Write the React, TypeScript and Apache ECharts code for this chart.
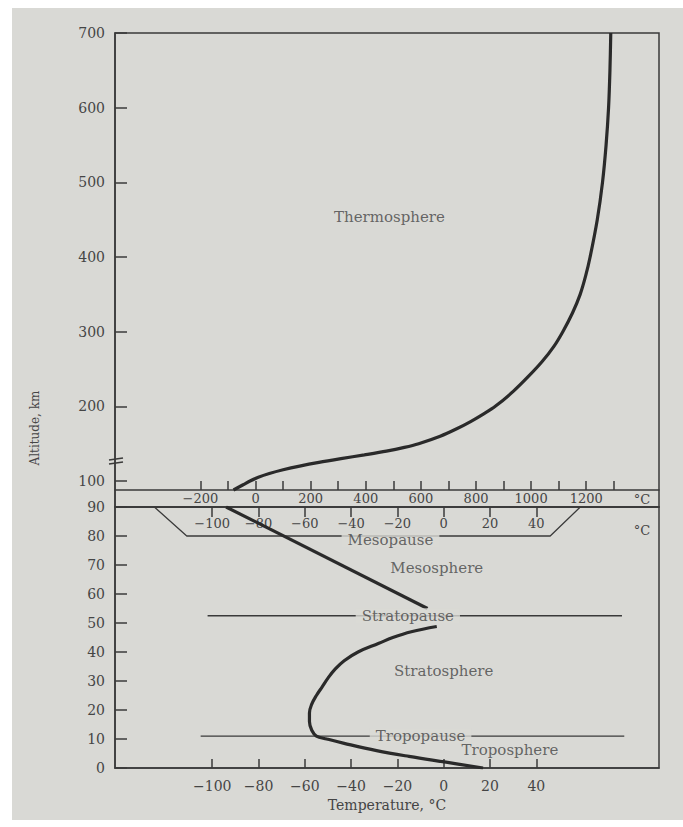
import { useEffect, useRef } from 'react';
import * as echarts from 'echarts';

// Thermosphere profile (upper temperature scale)
const upperAltitudeKm = [88, 95, 100, 105, 110, 115, 120, 125, 130, 135, 140, 145, 150, 160, 170, 180, 190, 200, 220, 240, 260, 280, 300, 325, 350, 375, 400, 450, 500, 550, 600, 650, 700];
const upperTempC = [-80, -45, -20, 10, 50, 100, 160, 230, 310, 395, 475, 540, 592, 670, 730, 782, 828, 870, 935, 990, 1040, 1082, 1115, 1150, 1178, 1198, 1214, 1240, 1259, 1272, 1281, 1286, 1289];

// Troposphere + stratosphere profile (lower temperature scale)
const lowerAltitudeKm = [0, 2, 4, 6, 8.5, 10, 11, 13, 16, 19, 22, 25, 28, 31, 34, 37, 40, 43, 45, 47, 48.8];
const lowerTempC = [17, 1, -15, -29, -43, -50.5, -55, -57, -58, -58, -57, -55, -52.5, -50, -47, -43, -37, -28, -22, -14, -3];

// Mesosphere profile
const mesoAltitudeKm = [55, 90];
const mesoTempC = [-7, -94];

// Boundary lines
const stratopauseKm = 52.5;
const stratopauseTempRange = [-102, 77];
const tropopauseKm = 11;
const tropopauseTempRange = [-105, 78];
const mesopauseBoxTemp = [-125, -111, 46, 59];
const mesopauseBoxAlt = [90, 80, 80, 90];

// Ticks and labels
const upperYTicks = [100, 200, 300, 400, 500, 600, 700];
const lowerYTicks = [0, 10, 20, 30, 40, 50, 60, 70, 80, 90];
const upperXTicks = [-200, -100, 0, 100, 200, 300, 400, 500, 600, 700, 800, 900, 1000, 1100, 1200, 1300];
const upperXLabels = [-200, 0, 200, 400, 600, 800, 1000, 1200];
const lowerXTicks = [-100, -80, -60, -40, -20, 0, 20, 40];

// Layer names
const lowerLayerNames = ['Mesopause', 'Mesosphere', 'Stratopause', 'Stratosphere', 'Tropopause', 'Troposphere'];
const lowerLayerTemp = [-23, -3, -15.5, 0, -10, 28.6];
const lowerLayerAlt = [78.6, 69, 52.5, 33.4, 11, 6.2];
const lowerLayerCover = [true, false, true, false, true, false];
const upperLayerNames = ['Thermosphere'];
const upperLayerTemp = [486];
const upperLayerAlt = [454];

const FONT = 'DejaVu Serif';
const BG = '#d9d9d5';
const INK = '#3a3a3a';
const CURVE = '#2a2a2a';
const TXT = '#454545';

const L = 115;
const W = 544;
const TOP = 33;
const UH = 474;
const LTOP = TOP + UH;
const LH = 261;

const fmt = (v: number) => String(v).replace('-', '\u2212');

export default function App() {
  const ref = useRef<HTMLDivElement>(null);
  useEffect(() => {
    if (!ref.current) return;
    const chart = echarts.init(ref.current, null, { renderer: 'svg' });
    const axisLine = { show: true, onZero: false, lineStyle: { color: INK, width: 1.5 } };
    const tickStyle = { color: INK, width: 1.5 };
    const labelStyle = { fontFamily: FONT, fontSize: 14, color: TXT };
    const option: any = {
      animation: false,
      backgroundColor: BG,
      grid: [
        { left: L, top: TOP, width: W, height: UH, show: true, borderColor: INK, borderWidth: 1.5, backgroundColor: 'transparent' },
        { left: L, top: LTOP, width: W, height: LH, show: true, borderColor: INK, borderWidth: 1.5, backgroundColor: 'transparent' },
      ],
      xAxis: [
        {
          gridIndex: 0, type: 'value', position: 'bottom', offset: -17, min: -510, max: 1464,
          axisLine, splitLine: { show: false },
          axisTick: { show: true, inside: true, length: 9, lineStyle: tickStyle, customValues: upperXTicks },
          axisLabel: { ...labelStyle, fontSize: 13, margin: 2, customValues: upperXLabels, formatter: fmt },
        },
        {
          gridIndex: 1, type: 'value', position: 'top', min: -142, max: 93,
          axisLine, splitLine: { show: false },
          axisTick: { show: true, inside: true, length: 10, lineStyle: tickStyle, customValues: lowerXTicks },
          axisLabel: { ...labelStyle, fontSize: 13, inside: true, margin: 10, customValues: lowerXTicks, formatter: fmt },
        },
        {
          gridIndex: 1, type: 'value', position: 'bottom', min: -142, max: 93,
          axisLine, splitLine: { show: false },
          axisTick: { show: true, inside: true, length: 9, lineStyle: tickStyle, customValues: lowerXTicks },
          axisLabel: { ...labelStyle, margin: 11, customValues: lowerXTicks, formatter: fmt },
          name: 'Temperature, \u00B0C', nameLocation: 'middle', nameGap: 30,
          nameTextStyle: { fontFamily: FONT, fontSize: 14, color: TXT },
        },
      ],
      yAxis: [
        {
          gridIndex: 0, type: 'value', min: 65.2, max: 700,
          axisLine, splitLine: { show: false },
          axisTick: { show: true, inside: true, length: 12, lineStyle: tickStyle, customValues: upperYTicks },
          axisLabel: { ...labelStyle, margin: 10, customValues: upperYTicks },
        },
        {
          gridIndex: 1, type: 'value', min: 0, max: 90, interval: 10,
          axisLine, splitLine: { show: false },
          axisTick: { show: true, inside: true, length: 12, lineStyle: tickStyle, customValues: lowerYTicks },
          axisLabel: { ...labelStyle, margin: 10, customValues: lowerYTicks },
        },
      ],
      series: [
        {
          type: 'line', xAxisIndex: 0, yAxisIndex: 0, symbol: 'none', smooth: 0.3, silent: true, z: 5,
          lineStyle: { color: CURVE, width: 3.2 },
          data: upperAltitudeKm.map((a, i) => [upperTempC[i], a]),
        },
        {
          type: 'line', xAxisIndex: 2, yAxisIndex: 1, symbol: 'none', smooth: 0.4, silent: true, z: 5,
          lineStyle: { color: CURVE, width: 3.2 },
          data: lowerAltitudeKm.map((a, i) => [lowerTempC[i], a]),
        },
        {
          type: 'line', xAxisIndex: 2, yAxisIndex: 1, symbol: 'none', silent: true, z: 5,
          lineStyle: { color: CURVE, width: 3.2 },
          data: mesoAltitudeKm.map((a, i) => [mesoTempC[i], a]),
        },
        {
          type: 'line', xAxisIndex: 2, yAxisIndex: 1, symbol: 'none', silent: true, z: 3,
          lineStyle: { color: INK, width: 1.3 },
          data: stratopauseTempRange.map((t) => [t, stratopauseKm]),
        },
        {
          type: 'line', xAxisIndex: 2, yAxisIndex: 1, symbol: 'none', silent: true, z: 3,
          lineStyle: { color: INK, width: 1.3 },
          data: tropopauseTempRange.map((t) => [t, tropopauseKm]),
        },
        {
          type: 'line', xAxisIndex: 2, yAxisIndex: 1, symbol: 'none', silent: true, z: 3,
          lineStyle: { color: INK, width: 1.3 },
          data: mesopauseBoxTemp.map((t, i) => [t, mesopauseBoxAlt[i]]),
        },
        {
          type: 'scatter', xAxisIndex: 2, yAxisIndex: 1, symbolSize: 1, silent: true, z: 10,
          itemStyle: { color: 'transparent' },
          label: { show: true, position: 'inside', formatter: '{b}', fontFamily: FONT, fontSize: 15, color: TXT },
          data: lowerLayerNames.map((n, i) => ({
            name: n,
            value: [lowerLayerTemp[i], lowerLayerAlt[i]],
            label: lowerLayerCover[i] ? { backgroundColor: BG, padding: [0, 6] } : {},
          })),
        },
        {
          type: 'scatter', xAxisIndex: 0, yAxisIndex: 0, symbolSize: 1, silent: true, z: 10,
          itemStyle: { color: 'transparent' },
          label: { show: true, position: 'inside', formatter: '{b}', fontFamily: FONT, fontSize: 15, color: TXT },
          data: upperLayerNames.map((n, i) => ({ name: n, value: [upperLayerTemp[i], upperLayerAlt[i]] })),
        },
      ],
      graphic: [
        { type: 'rect', shape: { x: 0, y: 0, width: 12, height: 827 }, style: { fill: '#ffffff' }, silent: true },
        { type: 'rect', shape: { x: 0, y: 0, width: 683, height: 8 }, style: { fill: '#ffffff' }, silent: true },
        { type: 'rect', shape: { x: 0, y: 820, width: 683, height: 7 }, style: { fill: '#ffffff' }, silent: true },
        { type: 'line', shape: { x1: L - 6, y1: 460, x2: L + 8, y2: 458 }, style: { stroke: INK, lineWidth: 1.6 }, silent: true },
        { type: 'line', shape: { x1: L - 6, y1: 464, x2: L + 8, y2: 462 }, style: { stroke: INK, lineWidth: 1.6 }, silent: true },
        {
          type: 'text', x: 35, y: 428, rotation: Math.PI / 2, silent: true,
          style: { text: 'Altitude, km', fontFamily: FONT, fontSize: 12, fill: TXT, textAlign: 'center', textVerticalAlign: 'middle' },
        },
        {
          type: 'text', x: L + W - 17, y: 499, silent: true,
          style: { text: '\u00B0C', fontFamily: FONT, fontSize: 13, fill: TXT, textAlign: 'center', textVerticalAlign: 'middle' },
        },
        {
          type: 'text', x: L + W - 17, y: 530, silent: true,
          style: { text: '\u00B0C', fontFamily: FONT, fontSize: 13, fill: TXT, textAlign: 'center', textVerticalAlign: 'middle' },
        },
      ],
    };
    chart.setOption(option);
    return () => chart.dispose();
  }, []);
  return <div ref={ref} style={{ position: 'absolute', left: 0, top: 0, width: 683, height: 827 }} />;
}
